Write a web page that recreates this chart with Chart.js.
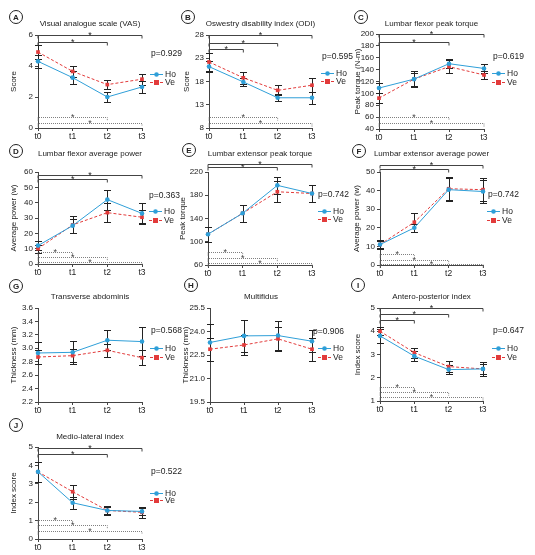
<!DOCTYPE html>
<html>
<head>
<meta charset="utf-8">
<script src="https://cdn.jsdelivr.net/npm/chart.js@4.4.1/dist/chart.umd.min.js"></script>
<style>
  body { margin: 0; background: #fff; width: 535px; height: 555px; position: relative; overflow: hidden; }
  canvas { position: absolute; }
</style>
</head>
<body>
<canvas id="cA" width="190" height="150" style="left:0;top:0"></canvas>
<canvas id="cB" width="190" height="150" style="left:175px;top:0"></canvas>
<canvas id="cC" width="185" height="150" style="left:350px;top:0"></canvas>
<canvas id="cD" width="190" height="150" style="left:0;top:135px"></canvas>
<canvas id="cE" width="190" height="150" style="left:175px;top:135px"></canvas>
<canvas id="cF" width="185" height="150" style="left:350px;top:135px"></canvas>
<canvas id="cG" width="190" height="150" style="left:0;top:270px"></canvas>
<canvas id="cH" width="190" height="150" style="left:175px;top:270px"></canvas>
<canvas id="cI" width="185" height="150" style="left:350px;top:270px"></canvas>
<canvas id="cJ" width="190" height="145" style="left:0;top:410px"></canvas>
<script>
Chart.defaults.font.family = '"Liberation Sans", Arial, sans-serif';
Chart.defaults.color = '#222';

const BLUE = '#2f9fd8';
const RED = '#e23b3b';
const FONT = '"Liberation Sans", Arial, sans-serif';

const XLABELS = ['t0', 't1', 't2', 't3'];

// A - VAS
const vasTicks = ['0', '2', '4', '6'];
const vasHo = [4.3, 3.25, 2.0, 2.65];
const vasHoErr = [0.4, 0.4, 0.35, 0.4];
const vasVe = [4.9, 3.65, 2.8, 3.15];
const vasVeErr = [0.45, 0.35, 0.3, 0.35];
const vasTop = [[0, 3, 6.0], [0, 2, 5.55]];
const vasBottom = [[0, 2, 0.7], [0, 3, 0.3]];

// B - ODI
const odiTicks = ['8', '13', '18', '23', '28'];
const odiHo = [21.2, 17.9, 14.5, 14.5];
const odiHoErr = [1.2, 0.8, 0.8, 1.3];
const odiVe = [22.2, 18.8, 16.1, 17.2];
const odiVeErr = [2.0, 1.3, 1.1, 1.5];
const odiTop = [[0, 3, 28], [0, 2, 26.3], [0, 1, 25.0]];
const odiBottom = [[0, 2, 10.4], [0, 3, 9.1]];

// C - lumbar flexor peak torque
const fptTicks = ['40', '60', '80', '100', '120', '140', '160', '180', '200'];
const fptHo = [109, 124, 150, 142];
const fptHoErr = [8, 13, 8, 8];
const fptVe = [92, 124, 145, 131];
const fptVeErr = [8, 11, 11, 7];
const fptTop = [[0, 3, 200], [0, 2, 186.5]];
const fptBottom = [[0, 2, 60], [0, 3, 50]];

// D - lumbar flexor average power
const fapTicks = ['0', '10', '20', '30', '40', '50', '60'];
const fapHo = [12, 25, 42, 33];
const fapHoErr = [3, 4.5, 6.5, 6.5];
const fapVe = [10, 25.5, 33.5, 30.5];
const fapVeErr = [2.5, 5.5, 6, 4.5];
const fapTop = [[0, 3, 58.3], [0, 2, 55.7]];
const fapBottom = [[0, 1, 7.8], [0, 2, 4.3], [0, 3, 1.1]];

// E - lumbar extensor peak torque
const eptTicks = ['60', '100', '140', '180', '220'];
const eptHo = [113, 149, 197, 183];
const eptHoErr = [13, 15, 15, 14];
const eptVe = [113, 149, 186, 183];
const eptVeErr = [13, 15, 18, 14];
const eptTop = [[0, 3, 233.8], [0, 2, 228.6]];
const eptBottom = [[0, 1, 81.9], [0, 2, 72.7], [0, 3, 64]];

// F - lumbar extensor average power
const eapTicks = ['0', '10', '20', '30', '40', '50'];
const eapHo = [11, 20, 40.5, 39.5];
const eapHoErr = [2, 2, 6.3, 6.3];
const eapVe = [11, 23, 41, 40.5];
const eapVeErr = [2.5, 5, 6.3, 6.3];
const eapTop = [[0, 3, 53.9], [0, 2, 51.8]];
const eapBottom = [[0, 1, 5.9], [0, 2, 2.7], [0, 3, 0.4]];

// G - transverse abdominis
const taTicks = ['2.2', '2.4', '2.6', '2.8', '3.0', '3.2', '3.4', '3.6'];
const taHo = [2.93, 2.94, 3.12, 3.10];
const taHoErr = [0.17, 0.17, 0.15, 0.22];
const taVe = [2.87, 2.89, 2.97, 2.86];
const taVeErr = [0.1, 0.1, 0.1, 0.11];

// H - multifidus
const mfTicks = ['19.5', '21.0', '22.5', '24.0', '25.5'];
const mfHo = [23.3, 23.72, 23.74, 23.38];
const mfHoErr = [1.2, 1.0, 0.9, 0.7];
const mfVe = [22.87, 23.14, 23.53, 22.87];
const mfVeErr = [0.73, 0.64, 0.75, 0.74];

// I - antero-posterior index
const apTicks = ['1', '2', '3', '4', '5'];
const apHo = [3.8, 2.93, 2.35, 2.38];
const apHoErr = [0.3, 0.2, 0.2, 0.2];
const apVe = [4.0, 3.08, 2.48, 2.38];
const apVeErr = [0.18, 0.22, 0.22, 0.3];
const apTop = [[0, 3, 5.0], [0, 2, 4.76], [0, 1, 4.47]];
const apBottom = [[0, 1, 1.59], [0, 2, 1.37], [0, 3, 1.19]];

// J - medio-lateral index
const mlTicks = ['0', '1', '2', '3', '4', '5'];
const mlHo = [3.65, 1.97, 1.55, 1.5];
const mlHoErr = [0.55, 0.33, 0.2, 0.2];
const mlVe = [3.65, 2.57, 1.55, 1.45];
const mlVeErr = [0.55, 0.38, 0.22, 0.3];
const mlTop = [[0, 3, 4.96], [0, 2, 4.64]];
const mlBottom = [[0, 1, 1.03], [0, 2, 0.76], [0, 3, 0.45]];

const pValues = ['0.929', '0.595', '0.619', '0.363', '0.742', '0.742', '0.568', '0.906', '0.647', '0.522'];

// layout per panel: box = [left, right, top, bottom] of the plot area inside its canvas
const panels = [
  { id: 'cA', letter: 'A', title: 'Visual analogue scale (VAS)', yTitle: 'Score', ticks: vasTicks, ho: vasHo, hoErr: vasHoErr, ve: vasVe, veErr: vasVeErr, top: vasTop, bottom: vasBottom, p: pValues[0],
    box: [38, 142, 35, 128], yTitleX: 14, badge: [16, 17], titleY: 24, pX: 151, pY: 54, legX: 150, hoY: 74, veY: 82 },
  { id: 'cB', letter: 'B', title: 'Oswestry disability index (ODI)', yTitle: 'Score', ticks: odiTicks, ho: odiHo, hoErr: odiHoErr, ve: odiVe, veErr: odiVeErr, top: odiTop, bottom: odiBottom, p: pValues[1],
    box: [34, 137, 35, 128], yTitleX: 12, badge: [13, 17], titleY: 24, pX: 147, pY: 57, legX: 146, hoY: 73, veY: 81 },
  { id: 'cC', letter: 'C', title: 'Lumbar flexor peak torque', yTitle: 'Peak torque (N-m)', ticks: fptTicks, ho: fptHo, hoErr: fptHoErr, ve: fptVe, veErr: fptVeErr, top: fptTop, bottom: fptBottom, p: pValues[2],
    box: [29, 134, 34, 129], yTitleX: 8, badge: [11, 17], titleY: 24, pX: 143, pY: 57, legX: 142, hoY: 73, veY: 82 },
  { id: 'cD', letter: 'D', title: 'Lumbar flexor average power', yTitle: 'Average power (w)', ticks: fapTicks, ho: fapHo, hoErr: fapHoErr, ve: fapVe, veErr: fapVeErr, top: fapTop, bottom: fapBottom, p: pValues[3],
    box: [38, 142, 37, 129], yTitleX: 14, badge: [16, 16], titleY: 19, pX: 149, pY: 61, legX: 149, hoY: 76, veY: 85 },
  { id: 'cE', letter: 'E', title: 'Lumbar extensor peak torque', yTitle: 'Peak torque', ticks: eptTicks, ho: eptHo, hoErr: eptHoErr, ve: eptVe, veErr: eptVeErr, top: eptTop, bottom: eptBottom, p: pValues[4],
    box: [33, 137, 37, 130], yTitleX: 8, badge: [14, 15], titleY: 19, pX: 143, pY: 60, legX: 143, hoY: 76, veY: 84 },
  { id: 'cF', letter: 'F', title: 'Lumbar extensor average power', yTitle: 'Average power (w)', ticks: eapTicks, ho: eapHo, hoErr: eapHoErr, ve: eapVe, veErr: eapVeErr, top: eapTop, bottom: eapBottom, p: pValues[5],
    box: [30, 133, 37, 130], yTitleX: 7, badge: [9, 16], titleY: 19, pX: 138, pY: 60, legX: 137, hoY: 76, veY: 85 },
  { id: 'cG', letter: 'G', title: 'Transverse abdominis', yTitle: 'Thickness (mm)', ticks: taTicks, ho: taHo, hoErr: taHoErr, ve: taVe, veErr: taVeErr, top: [], bottom: [], p: pValues[6],
    box: [38, 142, 38, 132], yTitleX: 14, badge: [16, 16], titleY: 27, pX: 151, pY: 61, legX: 150, hoY: 78, veY: 87 },
  { id: 'cH', letter: 'H', title: 'Multifidus', yTitle: 'Thickness (mm)', ticks: mfTicks, ho: mfHo, hoErr: mfHoErr, ve: mfVe, veErr: mfVeErr, top: [], bottom: [], p: pValues[7],
    box: [35, 137, 38, 132], yTitleX: 11, badge: [16, 15], titleY: 27, pX: 138, pY: 62, legX: 143, hoY: 78, veY: 87 },
  { id: 'cI', letter: 'I', title: 'Antero-posterior index', yTitle: 'Index score', ticks: apTicks, ho: apHo, hoErr: apHoErr, ve: apVe, veErr: apVeErr, top: apTop, bottom: apBottom, p: pValues[8],
    box: [30, 133, 38, 131], yTitleX: 8, badge: [8, 15], titleY: 27, pX: 143, pY: 61, legX: 142, hoY: 78, veY: 87 },
  { id: 'cJ', letter: 'J', title: 'Medio-lateral index', yTitle: 'Index score', ticks: mlTicks, ho: mlHo, hoErr: mlHoErr, ve: mlVe, veErr: mlVeErr, top: mlTop, bottom: mlBottom, p: pValues[9],
    box: [38, 142, 37, 129], yTitleX: 14, badge: [16, 15], titleY: 27, pX: 151, pY: 62, legX: 150, hoY: 83, veY: 90 }
];

function drawMarker(ctx, style, x, y, color) {
  ctx.save();
  ctx.fillStyle = color;
  if (style === 'rect') {
    ctx.fillRect(x - 2.5, y - 2.5, 5, 5);
  } else {
    ctx.beginPath();
    ctx.arc(x, y, 2.3, 0, Math.PI * 2);
    ctx.fill();
  }
  ctx.restore();
}

function drawBracket(ctx, x1, x2, yy, dotted) {
  ctx.save();
  ctx.strokeStyle = dotted ? '#808080' : '#444';
  ctx.lineWidth = 1;
  if (dotted) ctx.setLineDash([1, 1]);
  yy = Math.round(yy) + 0.5;
  ctx.beginPath();
  ctx.moveTo(x1, yy + 3);
  ctx.lineTo(x1, yy);
  ctx.lineTo(x2, yy);
  ctx.lineTo(x2, yy + 3);
  ctx.stroke();
  ctx.setLineDash([]);
  ctx.fillStyle = dotted ? '#444' : '#222';
  ctx.font = '9px ' + FONT;
  ctx.textAlign = 'center';
  ctx.textBaseline = 'alphabetic';
  ctx.fillText('*', (x1 + x2) / 2, yy + 2);
  ctx.restore();
}

function makeDeco(pn) {
  return {
    id: 'deco' + pn.letter,
    beforeDatasetsDraw(chart) {
      const ctx = chart.ctx, x = chart.scales.x, y = chart.scales.y;
      ctx.save();
      ctx.strokeStyle = '#222';
      ctx.lineWidth = 1;
      chart.data.datasets.forEach(ds => {
        ds.err.forEach((e, i) => {
          const px = Math.round(x.getPixelForValue(i)) + 0.5;
          const hi = Math.round(y.getPixelForValue(ds.data[i] + e)) + 0.5;
          const lo = Math.round(y.getPixelForValue(ds.data[i] - e)) + 0.5;
          ctx.beginPath();
          ctx.moveTo(px, hi); ctx.lineTo(px, lo);
          ctx.moveTo(px - 3.5, hi); ctx.lineTo(px + 3.5, hi);
          ctx.moveTo(px - 3.5, lo); ctx.lineTo(px + 3.5, lo);
          ctx.stroke();
        });
      });
      ctx.restore();
    },
    afterDraw(chart) {
      const ctx = chart.ctx, x = chart.scales.x, y = chart.scales.y, area = chart.chartArea;
      pn.top.forEach(b => drawBracket(ctx, x.getPixelForValue(b[0]), x.getPixelForValue(b[1]), y.getPixelForValue(b[2]), false));
      pn.bottom.forEach(b => drawBracket(ctx, x.getPixelForValue(b[0]), x.getPixelForValue(b[1]), y.getPixelForValue(b[2]), true));

      ctx.save();
      // title
      ctx.fillStyle = '#222';
      ctx.font = '8px ' + FONT;
      ctx.textAlign = 'center';
      ctx.textBaseline = 'middle';
      ctx.fillText(pn.title, (area.left + area.right) / 2, pn.titleY);

      // panel letter in a circle
      ctx.beginPath();
      ctx.arc(pn.badge[0], pn.badge[1], 6.5, 0, Math.PI * 2);
      ctx.strokeStyle = '#222';
      ctx.lineWidth = 1;
      ctx.stroke();
      ctx.font = 'bold 8px ' + FONT;
      ctx.fillText(pn.letter, pn.badge[0], pn.badge[1] + 0.5);

      // p value
      ctx.font = '8.5px ' + FONT;
      ctx.textAlign = 'left';
      ctx.fillText('p=' + pn.p, pn.pX, pn.pY);

      // legend
      chart.data.datasets.forEach((ds, i) => {
        const ly = Math.round(i === 0 ? pn.hoY : pn.veY) + 0.5;
        ctx.save();
        ctx.strokeStyle = ds.borderColor;
        ctx.lineWidth = 1;
        ctx.setLineDash(ds.borderDash || []);
        ctx.beginPath();
        ctx.moveTo(pn.legX, ly);
        ctx.lineTo(pn.legX + 13, ly);
        ctx.stroke();
        ctx.restore();
        drawMarker(ctx, ds.pointStyle, pn.legX + 6.5, ly, ds.borderColor);
        ctx.fillStyle = '#222';
        ctx.font = '8.5px ' + FONT;
        ctx.fillText(ds.label, pn.legX + 15, ly);
      });
      ctx.restore();
    }
  };
}

panels.forEach(pn => {
  const cv = document.getElementById(pn.id);
  const [L, R, T, B] = pn.box;
  const padL = pn.yTitleX - 5;
  const tickVals = pn.ticks.map(Number);
  new Chart(cv, {
    type: 'line',
    data: {
      labels: XLABELS,
      datasets: [
        { label: 'Ho', data: pn.ho, err: pn.hoErr, borderColor: BLUE, backgroundColor: BLUE, borderWidth: 1,
          pointStyle: 'circle', pointRadius: 2.3, pointBorderWidth: 0, tension: 0 },
        { label: 'Ve', data: pn.ve, err: pn.veErr, borderColor: RED, backgroundColor: RED, borderWidth: 1, borderDash: [3, 2],
          pointStyle: 'rect', pointRadius: 2.6, pointBorderWidth: 0, tension: 0 }
      ]
    },
    options: {
      responsive: false,
      animation: false,
      events: [],
      layout: { padding: { left: padL, top: T, right: cv.width - R, bottom: cv.height - B - 14 } },
      plugins: { legend: { display: false }, tooltip: { enabled: false } },
      scales: {
        x: {
          offset: false,
          grid: { display: true, drawOnChartArea: false, tickLength: 3, color: '#444' },
          border: { color: '#444' },
          ticks: { font: { size: 8.5 }, color: '#222', padding: 1, maxRotation: 0 },
          afterFit: s => { s.height = 14; }
        },
        y: {
          min: tickVals[0],
          max: tickVals[tickVals.length - 1],
          afterBuildTicks: s => { s.ticks = tickVals.map(v => ({ value: v })); },
          grid: { display: true, drawOnChartArea: false, tickLength: 3, color: '#444' },
          border: { color: '#444' },
          ticks: { autoSkip: false, font: { size: 8 }, color: '#222', padding: 2, callback: (v, i) => pn.ticks[i] },
          title: { display: true, text: pn.yTitle, padding: 0, font: { size: 8 }, color: '#222' },
          afterFit: s => { s.width = L - padL; }
        }
      }
    },
    plugins: [makeDeco(pn)]
  });
});
</script>
</body>
</html>
